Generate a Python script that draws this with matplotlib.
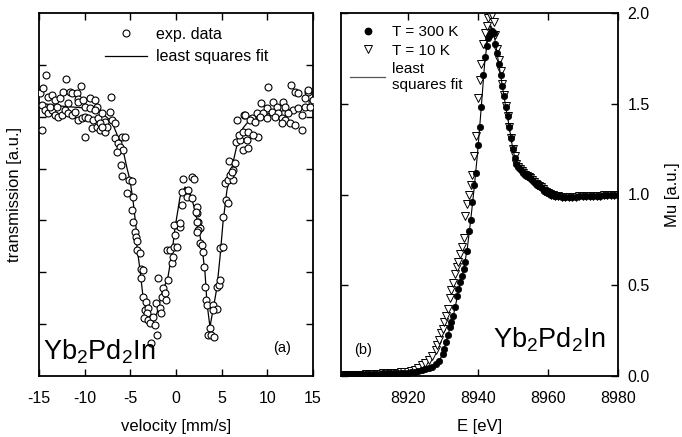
import matplotlib
matplotlib.use("Agg")
import matplotlib.pyplot as plt
from matplotlib.lines import Line2D

plt.rcParams['font.family'] = ['Liberation Sans', 'DejaVu Sans']
plt.rcParams['mathtext.default'] = 'regular'

# ---------------- panel (a): Moessbauer spectrum ----------------
vel_data = [
    -14.27, -12.05, -10.44, -14.89, -14.53, -13.98, -13.62, -13.25, -12.70, -12.34,
    -11.61, -11.43, -10.88, -10.77, -10.70, -10.15, -9.42, -8.87, -8.69, -7.12,
    -14.71, -14.35, -13.98, -13.62, -13.25, -12.89, -12.52, -12.16, -11.79, -11.43,
    -11.06, -10.70, -10.33, -9.97, -9.60, -9.05, -8.50, -8.14, -7.78, -7.23,
    -7.05, -6.68, -14.71, -9.97, -9.24, -8.69, -8.32, -7.78, -7.59, -6.68,
    -5.95, -5.59, -6.39, -6.13, -5.77, -6.50, -6.02, -13.80, -13.07, -11.79,
    -9.97, -9.42, -8.87, -8.32, -8.14,
    -5.95, -5.11, -4.85, -5.40, -4.67, -4.85, -4.67,
    0.80, 1.72, 1.97, 0.62, 1.35, 1.17, 1.72, 0.62, 2.26, 2.26, 0.07, 0.44, 2.45, 2.63,
    5.18, 5.47, 5.73, 5.37, 5.73, 6.28, 5.91, 6.28, 5.84, 6.46, 6.57, 7.01, 6.94, 7.37,
    7.92, 6.64, 7.45, 7.74, 7.30, 7.92,
    -4.49, -4.38, -4.23, -4.23, -3.94, -3.87, -3.65, -3.87, -3.65, -3.28, -3.39, -3.03,
    -3.21, -3.50, -3.03, -2.85, -2.48, -2.30, -2.04, -2.77, -1.93, -2.19, -1.75, -1.64,
    -1.57, -1.39, -1.20, -1.09, -0.84, -1.02, -0.66, -0.47, -0.36, -0.22, 0.15, -0.11,
    -0.22, 0.44, 2.45, 2.34, 2.63, 2.81, 2.99, 3.07, 3.18, 3.29, 3.43, 4.09, 4.45, 4.09,
    3.72, 3.54, 3.80, 4.16, 4.45, 4.74, 4.82, 4.82, 5.18,
    10.11, 12.59, 13.03, 13.39, 14.49, 14.12, 14.85, 9.31, 10.66, 11.75, 11.02, 9.93,
    11.93, 12.85, 13.39, 14.12, 14.67, 12.30, 13.76, 8.83, 9.56, 10.47, 11.20, 8.28,
    9.20, 9.93, 10.84, 11.57, 7.55, 8.10, 8.65, 11.93, 12.48, 13.03, 13.76, 11.57,
    8.94, 8.47, 14.45, 15.00, 2.15, 2.26, 6.09,
]
trans_data = [
    301, 297, 290, 283, 288, 279, 281, 276, 278, 284,
    284, 283, 283, 277, 274, 276, 278, 276, 269, 279,
    271, 266, 263, 266, 261, 259, 261, 266, 263, 261,
    264, 256, 258, 259, 258, 256, 258, 263, 254, 264,
    256, 253, 246, 239, 248, 249, 246, 244, 249, 238,
    239, 239, 233, 229, 226, 224, 211, 269, 269, 273,
    269, 268, 266, 253, 249,
    200, 196, 195, 183, 179, 166, 154,
    197, 199, 197, 184, 186, 179, 178, 171, 169, 163, 151, 149, 154, 148,
    159, 176, 173, 193, 196, 196, 201, 206, 215, 213, 234, 236, 241, 244,
    244, 256, 261, 236, 226, 228,
    144, 139, 135, 126, 123, 107, 106, 98, 79, 74, 66, 68,
    63, 58, 56, 53, 59, 51, 41, 33, 98, 73, 68, 63,
    79, 88, 83, 76, 96, 126, 126, 113, 119, 129, 129, 141,
    151, 153, 146, 154, 133, 131, 124, 109, 89, 76, 71, 71, 67, 66,
    48, 41, 41, 39, 89, 91, 96, 128, 129,
    289, 291, 284, 283, 284, 278, 274, 273, 274, 274, 269, 268,
    269, 266, 268, 269, 269, 263, 261, 263, 263, 264, 263, 258,
    259, 258, 259, 258, 261, 256, 254, 256, 253, 251, 246, 253,
    239, 241, 286, 276, 164, 144, 204,
]
vel_fit = [-15.0, -12.70, -9.96, -8.10, -7.01, -6.35, -5.80, -5.37, -5.04, -4.71,
           -4.38, -4.27, -3.94, -3.61, -3.18, -2.63, -2.08, -1.53, -0.88, -0.44,
           -0.11, 0.44, 0.99, 1.53, 2.08, 2.41, 2.85, 3.18, 3.39, 3.72,
           4.05, 4.49, 4.82, 5.15, 5.58, 6.13, 6.68, 7.34, 7.88, 9.42,
           11.61, 13.80, 15.0]
trans_fit = [273, 270, 268, 263, 254, 239, 226, 208, 196, 176,
             149, 129, 106, 79, 63, 53, 63, 83, 99, 123,
             148, 179, 189, 183, 166, 151, 129, 103, 73, 49,
             66, 89, 119, 154, 186, 209, 231, 248, 254, 261,
             265, 268, 271]
vel_ticks = [-15, -10, -5, 0, 5, 10, 15]

# ---------------- panel (b): XANES ----------------
E_300 = [8901, 8902, 8903, 8904, 8905, 8906, 8907, 8908, 8909, 8910,
         8911, 8912, 8913, 8914, 8915, 8916, 8917, 8918, 8919, 8920,
         8921, 8922, 8923, 8924, 8925, 8926, 8927, 8928, 8929, 8930,
         8930.5, 8931, 8931.5, 8932, 8932.5, 8933, 8933.5, 8934, 8934.5, 8935,
         8935.5, 8936, 8936.5, 8937, 8937.5, 8938, 8938.5, 8939, 8939.5, 8940,
         8940.5, 8941, 8941.5, 8942, 8942.5, 8943, 8943.5, 8944, 8944.5, 8945,
         8945.5, 8946, 8946.5, 8947, 8947.5, 8948, 8948.5, 8949, 8949.5, 8950,
         8950.5, 8951, 8951.5, 8952, 8952.5, 8953, 8953.5, 8954, 8954.5, 8955,
         8955.5, 8956, 8956.5, 8957, 8957.5, 8958, 8958.5, 8959, 8959.5, 8960,
         8960.5, 8961, 8961.5, 8962, 8963, 8964, 8965, 8966, 8967, 8968,
         8969, 8970, 8971, 8972, 8973, 8974, 8975, 8976, 8977, 8978, 8979, 8980]
mu_300 = [0.010, 0.010, 0.010, 0.011, 0.011, 0.011, 0.012, 0.012, 0.012, 0.013,
          0.013, 0.013, 0.014, 0.014, 0.015, 0.015, 0.016, 0.017, 0.018, 0.019,
          0.021, 0.024, 0.027, 0.031, 0.036, 0.043, 0.052, 0.065, 0.085, 0.120,
          0.150, 0.190, 0.225, 0.270, 0.300, 0.330, 0.380, 0.440, 0.480, 0.520,
          0.550, 0.590, 0.630, 0.690, 0.800, 0.860, 0.960, 1.050, 1.120, 1.270,
          1.370, 1.480, 1.660, 1.760, 1.820, 1.860, 1.880, 1.900, 1.890, 1.830,
          1.780, 1.720, 1.660, 1.600, 1.540, 1.480, 1.430, 1.370, 1.310, 1.250,
          1.200, 1.170, 1.150, 1.140, 1.130, 1.120, 1.110, 1.100, 1.095, 1.090,
          1.080, 1.070, 1.060, 1.050, 1.045, 1.040, 1.030, 1.020, 1.015, 1.010,
          1.005, 1.000, 0.995, 0.990, 0.990, 0.988, 0.988, 0.988, 0.988, 0.988,
          0.989, 0.990, 0.990, 0.991, 0.992, 0.993, 0.994, 0.995, 0.996, 0.998, 0.999, 1.000]

E_10 = [8901, 8902, 8903, 8904, 8905, 8906, 8907, 8908, 8909, 8910,
        8911, 8912, 8913, 8914, 8915, 8916, 8917, 8918, 8919, 8920,
        8921, 8922, 8923, 8924, 8925, 8926, 8927, 8928, 8928.5, 8929,
        8929.5, 8930, 8930.5, 8931, 8931.5, 8932, 8932.5, 8933, 8933.5, 8934,
        8934.5, 8935, 8935.5, 8936, 8936.5, 8937, 8937.5, 8938, 8938.5, 8939,
        8939.5, 8940, 8940.5, 8941, 8941.5, 8942, 8942.5, 8943, 8943.5, 8944,
        8944.5, 8945, 8945.5, 8946, 8946.5, 8947, 8947.5, 8948, 8948.5, 8949,
        8949.5, 8950, 8950.5, 8951, 8951.5, 8952, 8952.5, 8953, 8953.5, 8954,
        8954.5, 8955, 8955.5, 8956, 8956.5, 8957, 8957.5, 8958, 8958.5, 8959,
        8959.5, 8960, 8960.5, 8961, 8961.5, 8962, 8963, 8964, 8965, 8966,
        8967, 8968, 8969, 8970, 8971, 8972, 8973, 8974, 8975, 8976,
        8977, 8978, 8979, 8980]
mu_10 = [0.005, 0.006, 0.006, 0.007, 0.007, 0.008, 0.008, 0.009, 0.010, 0.011,
         0.012, 0.013, 0.014, 0.015, 0.016, 0.017, 0.018, 0.020, 0.022, 0.024,
         0.027, 0.031, 0.045, 0.058, 0.070, 0.086, 0.110, 0.144, 0.170, 0.200,
         0.235, 0.260, 0.300, 0.330, 0.370, 0.430, 0.475, 0.510, 0.560, 0.600,
         0.630, 0.670, 0.710, 0.760, 0.880, 0.950, 1.000, 1.050, 1.110, 1.210,
         1.320, 1.530, 1.630, 1.720, 1.830, 1.890, 1.930, 1.970, 1.990, 1.990,
         1.950, 1.880, 1.800, 1.740, 1.680, 1.610, 1.550, 1.490, 1.430, 1.370,
         1.310, 1.250, 1.210, 1.170, 1.150, 1.140, 1.130, 1.120, 1.110, 1.100,
         1.095, 1.090, 1.080, 1.070, 1.060, 1.050, 1.045, 1.040, 1.030, 1.020,
         1.015, 1.010, 1.005, 1.000, 0.995, 0.990, 0.990, 0.988, 0.988, 0.988,
         0.988, 0.988, 0.989, 0.990, 0.990, 0.991, 0.992, 0.993, 0.994, 0.995,
         0.996, 0.998, 0.999, 1.000]

E_fit = [8901, 8910, 8920, 8924, 8926, 8928, 8929, 8930, 8931, 8932,
         8933, 8934, 8935, 8936, 8937, 8938, 8939, 8940, 8941, 8942,
         8943, 8943.7, 8944.5, 8945, 8946, 8947, 8948, 8949, 8950, 8951,
         8952, 8954, 8956, 8958, 8960, 8962, 8966, 8970, 8975, 8980]
mu_fit = [0.010, 0.013, 0.019, 0.031, 0.043, 0.065, 0.085, 0.120, 0.190, 0.260,
          0.330, 0.420, 0.510, 0.590, 0.700, 0.860, 1.040, 1.240, 1.480, 1.730,
          1.880, 1.930, 1.900, 1.840, 1.720, 1.600, 1.480, 1.370, 1.250, 1.170,
          1.140, 1.100, 1.070, 1.040, 1.010, 0.990, 0.990, 0.990, 0.995, 1.000]
E_ticks = [8920, 8940, 8960, 8980]
mu_ticks = [0.0, 0.5, 1.0, 1.5, 2.0]

FS = 11.5
fig = plt.figure(figsize=(6.82, 4.37), dpi=100)
W, H = 682.0, 437.0

def box(x0, y0, x1, y1):
    return [x0 / W, 1 - y1 / H, (x1 - x0) / W, (y1 - y0) / H]

ax1 = fig.add_axes(box(39, 13, 313, 376))
ax2 = fig.add_axes(box(341, 13, 618, 376))

for ax in (ax1, ax2):
    for s in ax.spines.values():
        s.set_linewidth(1.3)
    ax.tick_params(which='both', direction='in', top=True, right=True,
                   length=5, width=1.0, labelsize=FS)
    ax.tick_params(axis='x', pad=11)
    ax.tick_params(axis='y', pad=7)

# panel (a)
ax1.plot(vel_fit, trans_fit, color='black', lw=0.9, zorder=2)
ax1.plot(vel_data, trans_data, linestyle='none', marker='o', ms=5.0,
         mfc='white', mec='black', mew=0.8, zorder=3)
ax1.set_xlim(-15, 15)
ax1.set_ylim(0, 363)
ax1.set_xticks(vel_ticks)
ax1.set_xticklabels([str(v) for v in vel_ticks])
ax1.set_yticks([363 * k / 7 for k in range(1, 7)])
ax1.tick_params(axis='y', labelleft=False)
ax1.set_xlabel('velocity [mm/s]', fontsize=FS + 0.5, labelpad=9)
fig.text(15 / W, 1 - 195 / H, 'transmission [a.u.]', rotation=90,
         ha='center', va='center', fontsize=FS + 0.5)
h1 = [Line2D([], [], linestyle='none', marker='o', ms=5.0, mfc='white', mec='black', mew=0.8),
      Line2D([], [], color='black', lw=0.9)]
ax1.legend(h1, ['exp. data', 'least squares fit'], loc='upper left',
           bbox_to_anchor=((105 - 39) / 274.0, (376 - 27) / 363.0),
           frameon=False, fontsize=FS, handlelength=2.6, handletextpad=0.6,
           labelspacing=0.45, borderpad=0, borderaxespad=0)
ax1.text(43 / W, 1 - 360 / H, 'Yb$_2$Pd$_2$In', transform=fig.transFigure,
         fontsize=19.5, ha='left', va='baseline')
ax1.text(282 / W, 1 - 348 / H, '(a)', transform=fig.transFigure,
         fontsize=10.5, ha='center', va='center')

# panel (b)
ax2.plot(E_fit, mu_fit, color='black', lw=0.8, zorder=4)
ax2.plot(E_300, mu_300, linestyle='none', marker='o', ms=4.6,
         mfc='black', mec='black', mew=0.5, zorder=3)
ax2.plot(E_10, mu_10, linestyle='none', marker='v', ms=5.2,
         mfc='white', mec='black', mew=0.7, zorder=2)
ax2.set_xlim(8901, 8980)
ax2.set_ylim(0, 2.0)
ax2.set_xticks(E_ticks)
ax2.set_yticks(mu_ticks)
ax2.set_yticklabels(['%.1f' % v for v in mu_ticks])
ax2.tick_params(axis='y', labelleft=False, labelright=True)
ax2.set_xlabel('E [eV]', fontsize=FS + 0.5, labelpad=9)
fig.text(672 / W, 1 - 195 / H, 'Mu [a.u.]', rotation=90,
         ha='center', va='center', fontsize=FS + 0.5)
h2 = [Line2D([], [], linestyle='none', marker='o', ms=4.6, mfc='black', mec='black'),
      Line2D([], [], linestyle='none', marker='v', ms=5.2, mfc='white', mec='black', mew=0.7),
      Line2D([], [], color='#555555', lw=0.9)]
ax2.legend(h2, ['T = 300 K', 'T = 10 K', 'least\nsquares fit'], loc='upper left',
           bbox_to_anchor=((350 - 341) / 277.0, (376 - 25) / 363.0),
           frameon=False, fontsize=FS - 0.5, handlelength=2.3, handletextpad=0.45,
           labelspacing=0.3, borderpad=0, borderaxespad=0)
ax2.text(363 / W, 1 - 350 / H, '(b)', transform=fig.transFigure,
         fontsize=10.5, ha='center', va='center')
ax2.text(493 / W, 1 - 348 / H, 'Yb$_2$Pd$_2$In', transform=fig.transFigure,
         fontsize=19.5, ha='left', va='baseline')

fig.savefig('out.png', dpi=100)
